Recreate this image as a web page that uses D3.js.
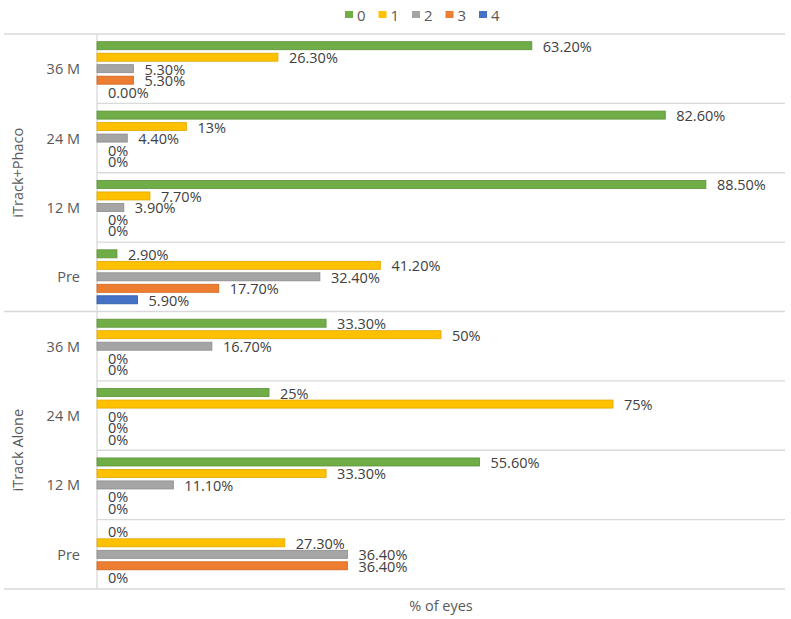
<!DOCTYPE html>
<html><head><meta charset="utf-8">
<script src="https://cdn.jsdelivr.net/npm/d3@7"></script>
<style>body{margin:0;background:#fff}svg{display:block}text{font-family:"Open Sans",sans-serif}</style>
</head><body><svg id="c" width="791" height="619"></svg>
<script>
// Categories (top to bottom)
const groups = ["iTrack+Phaco", "iTrack Alone"];
const periods = ["36 M", "24 M", "12 M", "Pre"];
const seriesNames = ["0", "1", "2", "3", "4"];
const colors = ["#70AD47", "#FFC000", "#A5A5A5", "#ED7D31", "#4472C4"];
const strokes = ["#5B9237", "#E0A800", "#8C8C8C", "#D0671E", "#2F5AA8"];
// values (%) per category: order = iTrack+Phaco 36M,24M,12M,Pre, iTrack Alone 36M,24M,12M,Pre
const s0 = [63.2, 82.6, 88.5, 2.9, 33.3, 25, 55.6, 0];
const s1 = [26.3, 13, 7.7, 41.2, 50, 75, 33.3, 27.3];
const s2 = [5.3, 4.4, 3.9, 32.4, 16.7, 0, 11.1, 36.4];
const s3 = [5.3, 0, 0, 17.7, 0, 0, 0, 36.4];
const s4 = [0, 0, 0, 5.9, 0, 0, 0, 0];
const l0 = ["63.20%", "82.60%", "88.50%", "2.90%", "33.30%", "25%", "55.60%", "0%"];
const l1 = ["26.30%", "13%", "7.70%", "41.20%", "50%", "75%", "33.30%", "27.30%"];
const l2 = ["5.30%", "4.40%", "3.90%", "32.40%", "16.70%", "0%", "11.10%", "36.40%"];
const l3 = ["5.30%", "0%", "0%", "17.70%", "0%", "0%", "0%", "36.40%"];
const l4 = ["0.00%", "0%", "0%", "5.90%", "0%", "0%", "0%", "0%"];
const xTitle = "% of eyes";

const values = [s0, s1, s2, s3, s4];
const labels = [l0, l1, l2, l3, l4];
const cats = [];
groups.forEach(g => periods.forEach(p => cats.push(g + "|" + p)));

const svg = d3.select("#c");
const L = 97, R = 785, T = 34, B = 589;
const x = d3.scaleLinear().domain([0, 100]).range([L, R]);
const y0 = d3.scaleBand().domain(cats).range([T, B]).padding(0);
const y1 = d3.scaleBand().domain(seriesNames).range([0, y0.bandwidth()]).paddingInner(0.3).paddingOuter(0.67);

const grid = "#D9D9D9";
// category separators
cats.forEach((c, i) => {
  const yy = y0(c);
  const isGroupStart = i % periods.length === 0;
  svg.append("line").attr("x1", isGroupStart ? 4 : L).attr("x2", R)
    .attr("y1", yy).attr("y2", yy).attr("stroke", grid).attr("stroke-width", 1.3);
});
svg.append("line").attr("x1", 4).attr("x2", R).attr("y1", B).attr("y2", B)
  .attr("stroke", grid).attr("stroke-width", 1.3);
svg.append("line").attr("x1", L).attr("x2", L).attr("y1", T).attr("y2", B)
  .attr("stroke", grid).attr("stroke-width", 1.3);

// bars
seriesNames.forEach((s, si) => {
  const g = svg.append("g");
  cats.forEach((c, ci) => {
    const v = values[si][ci];
    const yy = y0(c) + y1(s);
    if (v > 0) {
      g.append("rect").attr("x", x(0)).attr("y", yy)
        .attr("width", x(v) - x(0)).attr("height", y1.bandwidth())
        .attr("fill", colors[si]).attr("stroke", strokes[si]).attr("stroke-width", 0.8);
    }
    g.append("text").attr("x", x(v) + 11).attr("y", yy + y1.bandwidth() / 2 + 0.5)
      .attr("dominant-baseline", "central").attr("font-size", 14.5)
      .attr("fill", "#404040").text(labels[si][ci]);
  });
});

// category labels
cats.forEach(c => {
  svg.append("text").attr("x", 80).attr("y", y0(c) + y0.bandwidth() / 2)
    .attr("text-anchor", "end").attr("dominant-baseline", "central")
    .attr("font-size", 14.5).attr("fill", "#595959").text(c.split("|")[1]);
});
// group labels
groups.forEach(gn => {
  const first = y0(gn + "|" + periods[0]);
  const last = y0(gn + "|" + periods[periods.length - 1]) + y0.bandwidth();
  const cy = (first + last) / 2;
  svg.append("text").attr("transform", `translate(17,${cy}) rotate(-90)`)
    .attr("text-anchor", "middle").attr("dominant-baseline", "central")
    .attr("font-size", 14.5).attr("fill", "#595959").text(gn);
});

// x title
svg.append("text").attr("x", (L + R) / 2).attr("y", 605)
  .attr("text-anchor", "middle").attr("dominant-baseline", "central")
  .attr("font-size", 14.5).attr("fill", "#595959").text(xTitle);

// legend
const legX = d3.scalePoint().domain(seriesNames).range([345, 479]);
seriesNames.forEach((s, si) => {
  svg.append("rect").attr("x", legX(s)).attr("y", 11).attr("width", 8).attr("height", 7)
    .attr("fill", colors[si]);
  svg.append("text").attr("x", legX(s) + 12).attr("y", 14.5)
    .attr("dominant-baseline", "central").attr("font-size", 15)
    .attr("fill", "#595959").text(s);
});
</script></body></html>
